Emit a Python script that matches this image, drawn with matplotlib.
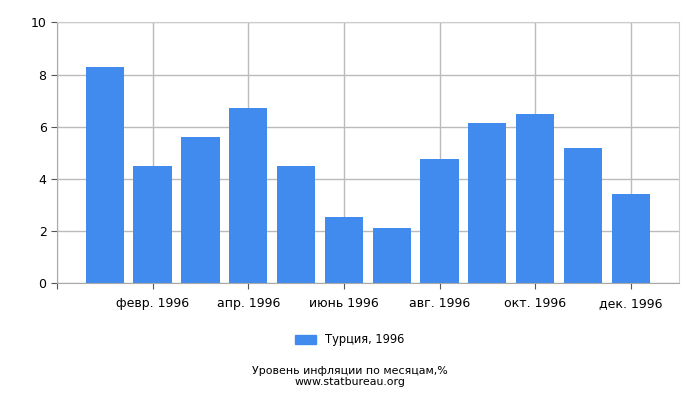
import matplotlib
matplotlib.use("Agg")
import matplotlib.pyplot as plt
import matplotlib.patches as mpatches

plt.rcParams["font.family"] = ["DejaVu Sans"]

# Данные: инфляция в Турции по месяцам, 1996
months = ["янв. 1996", "февр. 1996", "март 1996", "апр. 1996", "май 1996", "июнь 1996",
          "июль 1996", "авг. 1996", "сент. 1996", "окт. 1996", "нояб. 1996", "дек. 1996"]
values = [8.3, 4.5, 5.6, 6.7, 4.5, 2.54, 2.12, 4.76, 6.14, 6.49, 5.19, 3.42]
y_ticks = [0, 2, 4, 6, 8, 10]
series_label = "Турция, 1996"
title_text = "Уровень инфляции по месяцам,%"
site_text = "www.statbureau.org"

BAR_COLOR = "#418bef"
GRID_COLOR = "#bbbbbb"

fig = plt.figure(figsize=(7, 4), dpi=100)
ax = fig.add_axes([0.0814, 0.292, 0.888, 0.652])

x = list(range(len(values)))
ax.bar(x, values, width=0.8, color=BAR_COLOR, zorder=2)

ax.set_xlim(-1, 12)
ax.set_ylim(0, 10)
ax.set_yticks(y_ticks)
tick_pos = [-1] + x[1::2]
ax.set_xticks(tick_pos)
ax.set_xticklabels([""] + months[1::2])
ax.tick_params(axis="both", labelsize=9, color="#555555", length=4)
ax.tick_params(axis="x", pad=6)
ax.grid(True, color=GRID_COLOR, linewidth=1, zorder=0)
for side in ["top", "right"]:
    ax.spines[side].set_color("#cccccc")
for side in ["left", "bottom"]:
    ax.spines[side].set_color("#aaaaaa")

handle = mpatches.Patch(color=BAR_COLOR, label=series_label)
fig.legend(handles=[handle], loc="center", bbox_to_anchor=(0.5, 0.15), frameon=False,
           fontsize=8.3, handlelength=1.8, handleheight=0.7)

fig.text(0.5, 0.0725, title_text, ha="center", va="center", fontsize=7.9)
fig.text(0.5, 0.045, site_text, ha="center", va="center", fontsize=7.9)

fig.savefig("out.png", dpi=100)
